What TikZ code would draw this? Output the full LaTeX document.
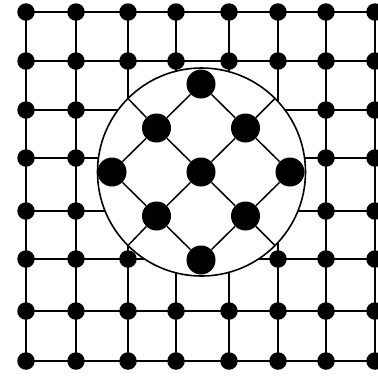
\documentclass[tikz,border=0pt]{standalone}
\begin{document}
\begin{tikzpicture}[x=1pt,y=-1pt,
  gdot/.style={circle,fill=black,inner sep=0pt,minimum size=17.5pt},
  bdot/.style={circle,fill=black,inner sep=0pt,minimum size=29pt},
  gline/.style={line width=1.8pt},
  lline/.style={line width=1.5pt},
  ring/.style={circle,draw=black,line width=1.6pt,fill=white,inner sep=0pt,minimum size=208pt}]
\useasboundingbox (0,0) rectangle (378,376);
% grid coordinates
\foreach \x [count=\i] in {26,76,128,176,229,278,326,375} {
  \foreach \y [count=\j] in {12,61,110,158,211,259,311,361} {
    \coordinate (g\i-\j) at (\x,\y);
  }
}
% grid lines
\foreach \i in {1,...,8} {
  \draw[gline] (g\i-1) -- (g\i-8);
  \draw[gline] (g1-\i) -- (g8-\i);
}
% circle
\node[ring] (c) at (201.5,172) {};
% grid dots outside the circle
\foreach \x [count=\i] in {26,76,128,176,229,278,326,375} {
  \foreach \y [count=\j] in {12,61,110,158,211,259,311,361} {
    \pgfmathtruncatemacro\inside{(((\x-201.5)/10)^2+((\y-172)/10)^2<108.16)?1:0}
    \ifnum\inside=0 \node[gdot] (d\i-\j) at (g\i-\j) {};\fi
  }
}
% inner lattice dots
\foreach \i in {0,1,2} {
  \foreach \j in {0,1,2} {
    \node[bdot] (b\i\j) at ({201+44.5*(\i-1)+44.5*(\j-1)},{172-44*(\i-1)+44*(\j-1)}) {};
  }
}
% inner lattice lines
\foreach \k in {0,1,2} {
  \draw[lline] (b0\k) -- (b1\k) -- (b2\k);
  \draw[lline] (b\k0) -- (b\k1) -- (b\k2);
}
% extensions to the circle
\draw[lline] (b21) -- (c.45);
\draw[lline] (b01) -- (c.225);
\draw[lline] (b10) -- (c.135);
\draw[lline] (b12) -- (c.315);
\end{tikzpicture}
\end{document}
